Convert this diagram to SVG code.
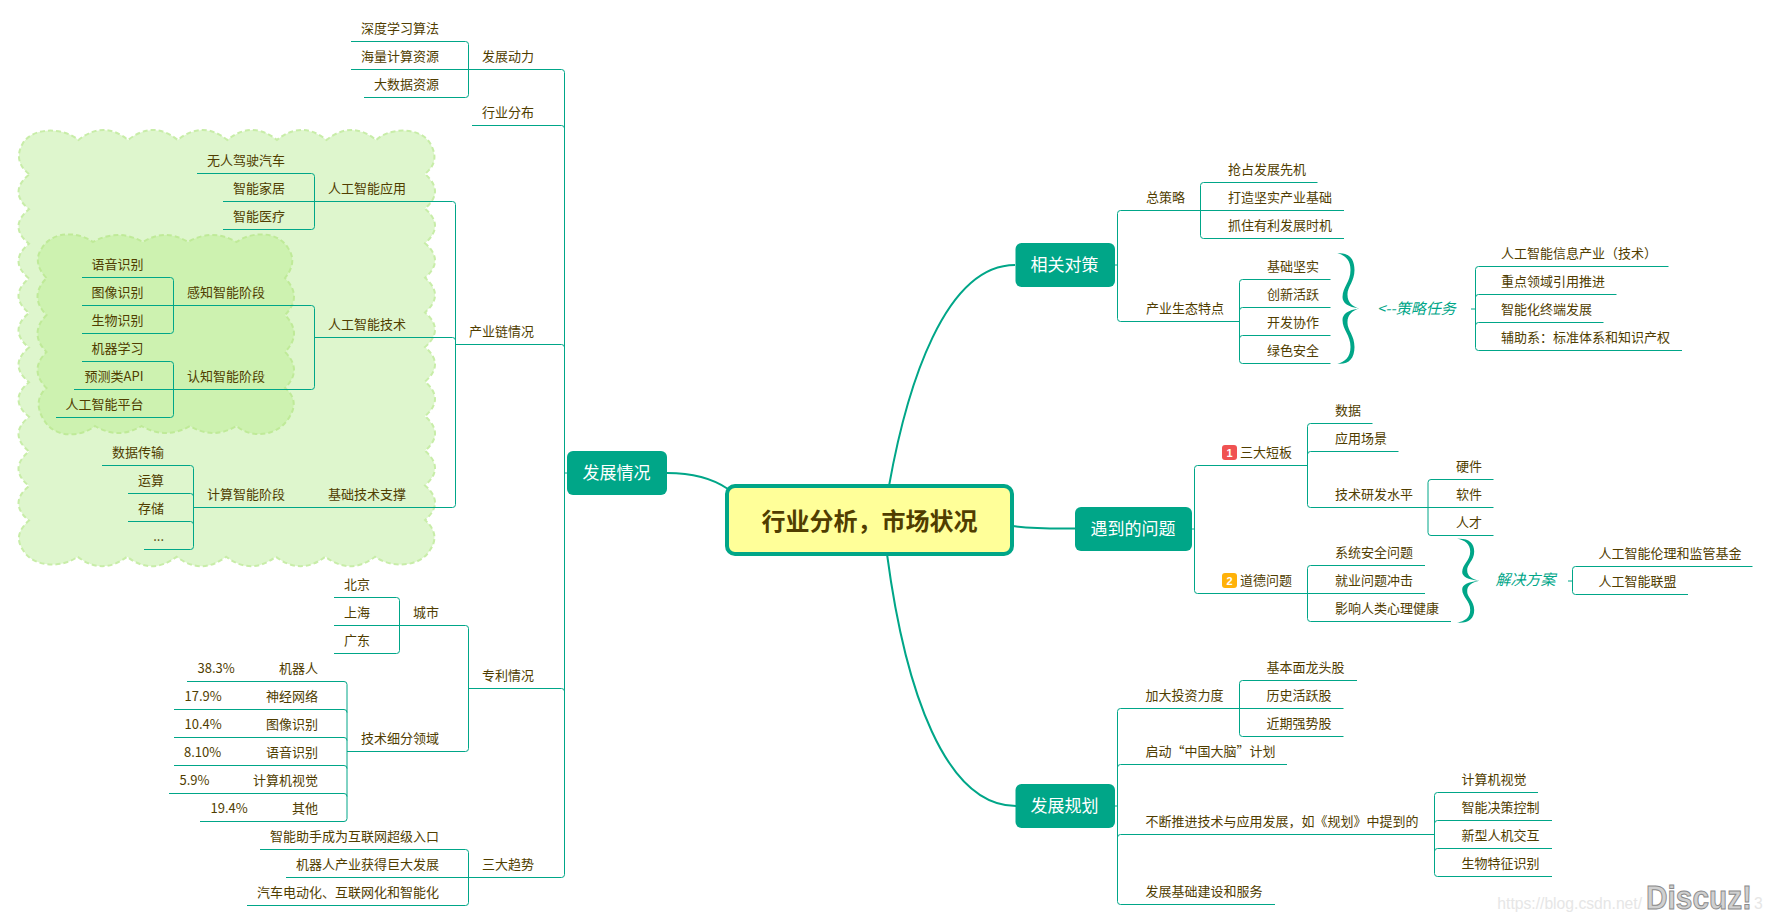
<svg xmlns="http://www.w3.org/2000/svg" width="1769" height="921" viewBox="0 0 1769 921">
<style>
text{font-family:"Noto Sans CJK SC","Noto Sans",sans-serif;font-size:13px;fill:#503d00}
.e{text-anchor:end}
.l{fill:none;stroke:#00a688;stroke-width:1}
.c{fill:none;stroke:#00a688;stroke-width:2}
.b{fill:#00a688}
.w{fill:#fff;font-size:17px;text-anchor:middle}
.i{font-style:italic;font-size:15px;fill:#00a688}
.cl{stroke-width:2;stroke-dasharray:5 3}
.n{font:bold 11px "Liberation Sans",sans-serif;fill:#fff;text-anchor:middle}
</style>
<defs>
<path id="brace" class="b" d="M1337.3 253.3C1348 252 1354.5 258 1354.500 270C1354.500 282 1347 287 1347.500 295C1347.500 302 1352 306.500 1359.500 308.500C1352 310.500 1347.500 315 1347.500 322C1347 330 1354.500 335 1354.500 347C1354.500 359 1348 365 1337.300 363.700C1345 362 1350.500 357 1350.500 347C1350.500 335 1342.500 330 1342.500 320C1342.500 314 1348 310 1359.500 308.500C1348 307 1342.500 303 1342.500 297C1342.500 287 1350.500 282 1350.500 270C1350.500 260 1345 255 1337.300 253.300Z"/>
</defs>
<rect width="1769" height="921" fill="#fff"/>
<g id="clouds">
<path class="cl" fill="#def6cd" stroke="#c8eda8" d="M29 174C18 165 16 155 23 143C33 127 63 127 78.5 140q24.8 -20 49.6 0q24.8 -20 49.6 0q24.8 -20 49.6 0q24.8 -20 49.6 0q24.8 -20 49.6 0q24.8 -20 49.6 0C390 127 420 127 430 143C437 155 436 165 425 174q20 17.3 0 34.6q20 17.3 0 34.6q20 17.3 0 34.6q20 17.3 0 34.6q20 17.3 0 34.6q20 17.3 0 34.6q20 17.3 0 34.6q20 17.3 0 34.6q20 17.3 0 34.6q20 17.3 0 34.6C436 530 437 540 430 550C420 568 390 568 375 556.7q-24.8 19 -49.6 0q-24.8 19 -49.6 0q-24.8 19 -49.6 0q-24.8 19 -49.6 0q-24.8 19 -49.6 0q-24.8 19 -49.4 0C63 568 33 568 23 550C16 540 18 530 29 520.6q-21 -17.3 0 -34.6q-21 -17.3 0 -34.6q-21 -17.3 0 -34.6q-21 -17.3 0 -34.6q-21 -17.3 0 -34.6q-21 -17.3 0 -34.6q-21 -17.3 0 -34.6q-21 -17.3 0 -34.6q-21 -17.3 0 -34.6q-21 -17.3 0 -34.6Z"/>
<path class="cl" fill="#cdf2b0" stroke="#bfea98" d="M46.5 278C37 268 35 258 42 248C52 231 78 231 93 242q25 -14 50 0q22.5 -14 45 0q24 -14 48.500 0C252 231 278 231 288 248C295 258 293 268 285 278q18 18.500 0 37q18 18.500 0 37q18 18 0 36C295 396 296 406 290 416C278 438 250 438 236.500 426q-23.500 14 -46.500 0q-24 14 -48.500 0q-23 14 -46.500 0C80 438 54 438 44 420C36 408 37 396 46.500 388q-18 -18 0 -36q-18 -18.500 0 -37q-18 -18.500 0 -37Z"/>
</g>
<g id="connectors">
<path class="c" d="M667 473C692 473 712 478 728 489"/>
<path class="c" d="M889 486C907 385 945 265 1015 265"/>
<path class="c" d="M1012 526C1035 529 1050 528.500 1076 528.500"/>
<path class="c" d="M887 554C905 690 945 806 1016 806"/>
<path class="l" d="M564.500 473H567"/>
<path class="l" d="M351 69.500H561.500q3 0 3 3V874.500q0 3 -3 3H286"/>
<path class="l" d="M472 125.500H561.500q3 0 3 3"/>
<path class="l" d="M456 344.500H561.500q3 0 3 3"/>
<path class="l" d="M351 41.500H465.500q3 0 3 3V94.500q0 3 -3 3H364"/>
<path class="l" d="M197 173.500H311.500q3 0 3 3V226.500q0 3 -3 3H223"/>
<path class="l" d="M223 201.500H452.500q3 0 3 3V504.500q0 3 -3 3H193.500"/>
<path class="l" d="M314.500 337.500H452.500q3 0 3 3"/>
<path class="l" d="M82 305.500H311.500q3 0 3 3V386.500q0 3 -3 3H74"/>
<path class="l" d="M82 277.500H170.500q3 0 3 3V330.500q0 3 -3 3H82"/>
<path class="l" d="M82 361.500H170.500q3 0 3 3V414.500q0 3 -3 3H56"/>
<path class="l" d="M102 465.500H190.500q3 0 3 3V546.500q0 3 -3 3H144"/>
<path class="l" d="M128 493.500H190.500q3 0 3 3M128 521.500H190.500q3 0 3 3"/>
<path class="l" d="M334 625.500H465.500q3 0 3 3V748.500q0 3 -3 3H347"/>
<path class="l" d="M468.500 688.500H561.500q3 0 3 3"/>
<path class="l" d="M334 597.500H396.500q3 0 3 3V650.500q0 3 -3 3H334"/>
<path class="l" d="M187 681.500H344q3 0 3 3V818.500q0 3 -3 3H200"/>
<path class="l" d="M174 709.500H344q3 0 3 3M174 737.500H344q3 0 3 3M174 765.500H344q3 0 3 3M169 793.500H344q3 0 3 3"/>
<path class="l" d="M260 849.500H465.500q3 0 3 3V902.500q0 3 -3 3H247"/>
<path class="l" d="M1115 265H1117.500"/>
<path class="l" d="M1200.500 210.500H1120.500q-3 0 -3 3V318.500q0 3 3 3H1239.500"/>
<path class="l" d="M1317.500 182.500H1203.500q-3 0 -3 3V235.500q0 3 3 3H1344M1200.500 210.500H1344"/>
<path class="l" d="M1330.500 279.500H1242.500q-3 0 -3 3V360.500q0 3 3 3H1330.500"/>
<path class="l" d="M1330.500 307.500H1242.500q-3 0 -3 3M1330.500 335.500H1242.500q-3 0 -3 3"/>
<path class="l" d="M1471 309H1475.500"/>
<path class="l" d="M1668.500 266.500H1478.500q-3 0 -3 3V347.500q0 3 3 3H1682"/>
<path class="l" d="M1616.500 294.500H1478.500q-3 0 -3 3M1603.500 322.500H1478.500q-3 0 -3 3"/>
<path class="l" d="M1191.500 529H1194.500"/>
<path class="l" d="M1307.500 465.500H1197.500q-3 0 -3 3V590.500q0 3 3 3H1307.500"/>
<path class="l" d="M1372.500 423.500H1310.500q-3 0 -3 3V504.500q0 3 3 3H1428M1398.500 451.500H1310.500q-3 0 -3 3"/>
<path class="l" d="M1493.500 479.500H1431q-3 0 -3 3V532.500q0 3 3 3H1493.500M1428 507.500H1493.500"/>
<path class="l" d="M1425 565.500H1310.500q-3 0 -3 3V618.500q0 3 3 3H1451M1307.500 593.500H1425"/>
<path class="l" d="M1568 581H1572.500"/>
<path class="l" d="M1752.500 566.500H1575.500q-3 0 -3 3V591.500q0 3 3 3H1688"/>
<path class="l" d="M1114.500 806H1117.500"/>
<path class="l" d="M1239.500 708.500H1120.500q-3 0 -3 3V901.500q0 3 3 3H1275"/>
<path class="l" d="M1357 680.500H1242.500q-3 0 -3 3V733.500q0 3 3 3H1343.500M1239.500 708.500H1343.500"/>
<path class="l" d="M1287 764.500H1120.500q-3 0 -3 3M1434.500 834.500H1120.500q-3 0 -3 3"/>
<path class="l" d="M1538 792.500H1437.500q-3 0 -3 3V873.500q0 3 3 3H1552"/>
<path class="l" d="M1552 820.500H1437.500q-3 0 -3 3M1552 848.500H1437.500q-3 0 -3 3"/>
<use href="#brace"/>
<use href="#brace" transform="translate(119.700 580.700) scale(1 .758) translate(0 -308.500)"/>
</g>
<g id="root"><rect x="727" y="486" width="285" height="68" rx="8" fill="#ffff99" stroke="#00a688" stroke-width="4"/><text x="869.500" y="530" text-anchor="middle" style="font-size:24px;font-weight:700">行业分析，市场状况</text></g>
<g id="t1"><rect class="b" x="567" y="451" width="100" height="44" rx="6"/><text class="w" x="616.500" y="478.500">发展情况</text></g>
<g id="t2"><rect class="b" x="1015.500" y="243" width="99.500" height="44" rx="6"/><text class="w" x="1064.500" y="270.500">相关对策</text></g>
<g id="t3"><rect class="b" x="1075" y="507" width="117" height="44" rx="6"/><text class="w" x="1133" y="534.500">遇到的问题</text></g>
<g id="t4"><rect class="b" x="1015.500" y="784" width="99.500" height="44" rx="6"/><text class="w" x="1064.500" y="811.500">发展规划</text></g>
<g id="left" transform="translate(0 -2)">
<g id="a1"><text class="e" x="439" y="34.500">深度学习算法</text></g>
<g id="a2"><text class="e" x="439" y="62.500">海量计算资源</text></g>
<g id="a3"><text class="e" x="439" y="90.500">大数据资源</text></g>
<g id="a4"><text x="482" y="62.500">发展动力</text></g>
<g id="a5"><text x="482" y="118.500">行业分布</text></g>
<g id="a6"><text class="e" x="285" y="166.500">无人驾驶汽车</text></g>
<g id="a7"><text class="e" x="285" y="194.500">智能家居</text></g>
<g id="a8"><text class="e" x="285" y="222.500">智能医疗</text></g>
<g id="a9"><text x="328" y="194.500">人工智能应用</text></g>
<g id="a10"><text class="e" x="143.500" y="270.500">语音识别</text></g>
<g id="a11"><text class="e" x="143.500" y="298.500">图像识别</text></g>
<g id="a12"><text class="e" x="143.500" y="326.500">生物识别</text></g>
<g id="a13"><text class="e" x="143.500" y="354.500">机器学习</text></g>
<g id="a14"><text class="e" x="143.500" y="382.500">预测类API</text></g>
<g id="a15"><text class="e" x="143.500" y="410.500">人工智能平台</text></g>
<g id="a16"><text x="187" y="298.500">感知智能阶段</text></g>
<g id="a17"><text x="187" y="382.500">认知智能阶段</text></g>
<g id="a18"><text x="328" y="330.500">人工智能技术</text></g>
<g id="a19"><text x="469" y="337.500">产业链情况</text></g>
<g id="a20"><text class="e" x="164" y="458.500">数据传输</text></g>
<g id="a21"><text class="e" x="164" y="486.500">运算</text></g>
<g id="a22"><text class="e" x="164" y="514.500">存储</text></g>
<g id="a23"><text class="e" x="164" y="542.500">...</text></g>
<g id="a24"><text x="207" y="500.500">计算智能阶段</text></g>
<g id="a25"><text x="328" y="500.500">基础技术支撑</text></g>
<g id="a26"><text x="344" y="590.500">北京</text></g>
<g id="a27"><text x="344" y="618.500">上海</text></g>
<g id="a28"><text x="344" y="646.500">广东</text></g>
<g id="a29"><text x="413" y="618.500">城市</text></g>
<g id="a30"><text x="482" y="681.500">专利情况</text></g>
<g id="a31"><text y="674.500"><tspan x="197.500">38.3%</tspan><tspan x="279">机器人</tspan></text></g>
<g id="a32"><text y="702.500"><tspan x="184.500">17.9%</tspan><tspan x="266">神经网络</tspan></text></g>
<g id="a33"><text y="730.500"><tspan x="184.500">10.4%</tspan><tspan x="266">图像识别</tspan></text></g>
<g id="a34"><text y="758.500"><tspan x="184">8.10%</tspan><tspan x="266">语音识别</tspan></text></g>
<g id="a35"><text y="786.500"><tspan x="179.500">5.9%</tspan><tspan x="253">计算机视觉</tspan></text></g>
<g id="a36"><text y="814.500"><tspan x="210.500">19.4%</tspan><tspan x="292">其他</tspan></text></g>
<g id="a37"><text x="361" y="744.500">技术细分领域</text></g>
<g id="a38"><text class="e" x="439" y="842.500">智能助手成为互联网超级入口</text></g>
<g id="a39"><text class="e" x="439" y="870.500">机器人产业获得巨大发展</text></g>
<g id="a40"><text class="e" x="439" y="898.500">汽车电动化、互联网化和智能化</text></g>
<g id="a41"><text x="482" y="870.500">三大趋势</text></g>
</g>
<g id="right" transform="translate(0 -2)">
<g id="b1"><text x="1146" y="203.500">总策略</text></g>
<g id="b2"><text x="1228" y="175.500">抢占发展先机</text></g>
<g id="b3"><text x="1228" y="203.500">打造坚实产业基础</text></g>
<g id="b4"><text x="1228" y="231.500">抓住有利发展时机</text></g>
<g id="b5"><text x="1146" y="314.500">产业生态特点</text></g>
<g id="b6"><text x="1267" y="272.500">基础坚实</text></g>
<g id="b7"><text x="1267" y="300.500">创新活跃</text></g>
<g id="b8"><text x="1267" y="328.500">开发协作</text></g>
<g id="b9"><text x="1267" y="356.500">绿色安全</text></g>
<g id="b10"><text class="i" x="1377" y="316">&lt;--策略任务</text></g>
<g id="b11"><text x="1501" y="259.500">人工智能信息产业（技术）</text></g>
<g id="b12"><text x="1501" y="287.500">重点领域引用推进</text></g>
<g id="b13"><text x="1501" y="315.500">智能化终端发展</text></g>
<g id="b14"><text x="1501" y="343.500">辅助系：标准体系和知识产权</text></g>
<g id="c1"><rect x="1222" y="447" width="15" height="15" rx="3" fill="#f05252"/><text class="n" x="1229.500" y="458.500">1</text><text x="1240" y="458.500">三大短板</text></g>
<g id="c2"><text x="1335" y="416.500">数据</text></g>
<g id="c3"><text x="1335" y="444.500">应用场景</text></g>
<g id="c4"><text x="1335" y="500.500">技术研发水平</text></g>
<g id="c5"><text x="1456" y="472.500">硬件</text></g>
<g id="c6"><text x="1456" y="500.500">软件</text></g>
<g id="c7"><text x="1456" y="528.500">人才</text></g>
<g id="c8"><rect x="1222" y="575" width="15" height="15" rx="3" fill="#ffb20a"/><text class="n" x="1229.500" y="586.500">2</text><text x="1240" y="586.500">道德问题</text></g>
<g id="c9"><text x="1335" y="558.500">系统安全问题</text></g>
<g id="c10"><text x="1335" y="586.500">就业问题冲击</text></g>
<g id="c11"><text x="1335" y="614.500">影响人类心理健康</text></g>
<g id="c12"><text class="i" x="1495.500" y="587">解决方案</text></g>
<g id="c13"><text x="1598.500" y="559.500">人工智能伦理和监管基金</text></g>
<g id="c14"><text x="1598.500" y="587.500">人工智能联盟</text></g>
<g id="d1"><text x="1145.500" y="701.500">加大投资力度</text></g>
<g id="d2"><text x="1266.500" y="673.500">基本面龙头股</text></g>
<g id="d3"><text x="1266.500" y="701.500">历史活跃股</text></g>
<g id="d4"><text x="1266.500" y="729.500">近期强势股</text></g>
<g id="d5"><text x="1145.500" y="757.500">启动“中国大脑”计划</text></g>
<g id="d6"><text x="1145.500" y="827.500">不断推进技术与应用发展，如《规划》中提到的</text></g>
<g id="d7"><text x="1461.500" y="785.500">计算机视觉</text></g>
<g id="d8"><text x="1461.500" y="813.500">智能决策控制</text></g>
<g id="d9"><text x="1461.500" y="841.500">新型人机交互</text></g>
<g id="d10"><text x="1461.500" y="869.500">生物特征识别</text></g>
<g id="d11"><text x="1145.500" y="897.500">发展基础建设和服务</text></g>
</g>
<g id="watermark">
<text x="1497.300" y="909" style="font:15.700px 'Liberation Sans',sans-serif;fill:#e6e6e6">https://blog.csdn.net/</text>
<text x="1754" y="909" style="font:15.700px 'Liberation Sans',sans-serif;fill:#e6e6e6">3</text>
<text x="1646" y="909" textLength="106" lengthAdjust="spacingAndGlyphs" style="font:bold 34px 'Liberation Sans',sans-serif;fill:#d0d0d0;stroke:#8a8a8a;stroke-width:1">Discuz!</text>
</g>
</svg>
